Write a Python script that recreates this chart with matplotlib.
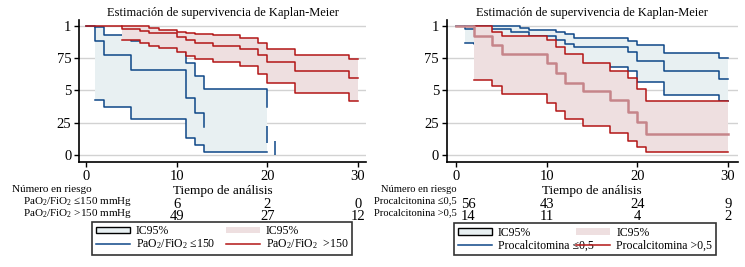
import matplotlib
matplotlib.use('Agg')
import matplotlib.pyplot as plt
from matplotlib.patches import Patch
from matplotlib.lines import Line2D
from matplotlib.transforms import blended_transform_factory

# ---- left panel: PaO2/FiO2 ----
l_blue_t = [0, 1, 2, 5, 11, 12, 13]
l_blue_s = [1.0, 0.886, 0.775, 0.659, 0.44, 0.328, 0.22]
l_blue_ci_t = [1, 2, 5, 11, 12, 13, 20]
l_blue_hi = [0.99, 0.934, 0.886, 0.716, 0.615, 0.51, 0.374]
l_blue_lo = [0.43, 0.37, 0.277, 0.13, 0.075, 0.023, 0.023]
l_blue_tick_x = [20, 20.9]
l_blue_tick_lo = [0.09, 0.0]
l_blue_tick_hi = [0.225, 0.108]

l_red_t = [0, 4, 6, 7, 10, 11, 12, 14, 17, 19, 20, 23, 29, 30]
l_red_s = [1.0, 0.98, 0.964, 0.943, 0.912, 0.889, 0.866, 0.845, 0.82, 0.775, 0.718, 0.651, 0.594, 0.594]
l_red_ci_t = [4, 6, 7, 8, 10, 11, 12, 14, 17, 19, 20, 23, 29, 30]
l_red_hi = [1.0, 1.0, 0.987, 0.966, 0.956, 0.948, 0.938, 0.93, 0.905, 0.866, 0.819, 0.773, 0.741, 0.741]
l_red_lo = [0.891, 0.866, 0.848, 0.832, 0.796, 0.77, 0.741, 0.718, 0.69, 0.628, 0.555, 0.483, 0.418, 0.418]

# ---- right panel: procalcitonina ----
r_blue_t = [0, 1, 6, 8, 11, 12, 13, 19, 20, 23, 29, 30]
r_blue_s = [1.0, 0.974, 0.95, 0.925, 0.89, 0.86, 0.835, 0.80, 0.726, 0.65, 0.587, 0.587]
r_blue_ci_t = [1, 2, 6, 7, 8, 11, 12, 13, 17, 19, 20, 23, 29, 30]
r_blue_hi = [1.0, 1.0, 1.0, 0.984, 0.969, 0.953, 0.938, 0.907, 0.907, 0.885, 0.852, 0.79, 0.75, 0.75]
r_blue_lo = [0.866, 0.86, 0.845, 0.845, 0.82, 0.78, 0.75, 0.70, 0.683, 0.65, 0.567, 0.463, 0.42, 0.42]

r_red_t = [0, 2, 4, 5, 10, 11, 12, 14, 17, 19, 20, 21, 30]
r_red_s = [1.0, 0.925, 0.85, 0.78, 0.71, 0.638, 0.56, 0.499, 0.426, 0.336, 0.256, 0.16, 0.16]
r_red_ci_t = [2, 4, 5, 10, 11, 12, 14, 17, 19, 20, 21, 30]
r_red_hi = [1.0, 0.951, 0.922, 0.891, 0.835, 0.78, 0.716, 0.654, 0.594, 0.509, 0.42, 0.42]
r_red_lo = [0.579, 0.535, 0.47, 0.40, 0.34, 0.28, 0.225, 0.168, 0.11, 0.06, 0.02, 0.02]

# number at risk
l_risk_t = [10, 20, 30]
l_risk_1 = ['6', '2', '0']
l_risk_2 = ['49', '27', '12']
r_risk_t = [0, 10, 20, 30]
r_risk_1 = ['56', '43', '24', '9']
r_risk_2 = ['14', '11', '4', '2']

yticks = [0, 0.25, 0.5, 0.75, 1]
ytick_labels = ['0', '25', '5', '75', '1']
xticks = [0, 10, 20, 30]

title = 'Estimación de supervivencia de Kaplan-Meier'
xlabel = 'Tiempo de análisis'

BLUE = '#0e4787'
RED = '#b31616'
PINK = '#c6858a'
BLUE_FILL = '#e8f0f2'
RED_FILL = '#eedfe0'
GRID = '#d2d2d2'

plt.rcParams['font.family'] = ['Liberation Serif', 'DejaVu Serif']
plt.rcParams['mathtext.fontset'] = 'custom'
plt.rcParams['mathtext.rm'] = 'Liberation Serif'
plt.rcParams['mathtext.it'] = 'Liberation Serif:italic'

W, H = 745, 267
fig = plt.figure(figsize=(W / 100, H / 100), dpi=100)


def px(x, y):
    return x / W, 1 - y / H


def setup_axes(ax, xlim):
    ax.set_xlim(*xlim)
    ax.set_ylim(-0.0543, 1.0465)
    ax.set_xticks(xticks)
    ax.set_yticks(yticks)
    ax.set_yticklabels(ytick_labels)
    ax.yaxis.grid(True, color=GRID, lw=1.0)
    ax.set_axisbelow(True)
    for s in ['top', 'right']:
        ax.spines[s].set_visible(False)
    for s in ['left', 'bottom']:
        ax.spines[s].set_linewidth(1.2)
    ax.tick_params(direction='out', length=3.5, width=1, labelsize=10.5, pad=2)
    ax.set_title(title, fontsize=9, pad=3)
    ax.set_xlabel(xlabel, fontsize=9.5, labelpad=2)


def draw_group(ax, t, s, ci_t, lo, hi, fill, color, est_color, lw_est=1.1, z=1):
    ax.fill_between(ci_t, lo, hi, step='post', color=fill, lw=0, zorder=z)
    ax.step(ci_t, hi, where='post', color=color, lw=1.1, zorder=z + 0.1)
    ax.step(ci_t, lo, where='post', color=color, lw=1.1, zorder=z + 0.1)
    ax.step(t, s, where='post', color=est_color, lw=lw_est, zorder=z + 0.2)


# left
ax1 = fig.add_axes([79 / W, 1 - 162 / H, 287.4 / W, 142 / H])
setup_axes(ax1, (-0.774, 30.93))
draw_group(ax1, l_blue_t, l_blue_s, l_blue_ci_t, l_blue_lo, l_blue_hi, BLUE_FILL, BLUE, BLUE, z=2)
ax1.vlines(l_blue_tick_x, l_blue_tick_lo, l_blue_tick_hi, color=BLUE, lw=1.1, zorder=2.2)
draw_group(ax1, l_red_t, l_red_s, l_red_ci_t, l_red_lo, l_red_hi, RED_FILL, RED, RED, z=3)

# right
ax2 = fig.add_axes([446.7 / W, 1 - 162 / H, 290.9 / W, 142 / H])
setup_axes(ax2, (-1.061, 31.09))
draw_group(ax2, r_blue_t, r_blue_s, r_blue_ci_t, r_blue_lo, r_blue_hi, BLUE_FILL, BLUE, BLUE, z=2)
draw_group(ax2, r_red_t, r_red_s, r_red_ci_t, r_red_lo, r_red_hi, RED_FILL, RED, PINK, lw_est=1.8, z=3)

# number at risk tables
fs_lab = 8
fig.text(*px(12, 189), 'Número en riesgo', fontsize=fs_lab, va='center', ha='left')
fig.text(*px(23, 201.5), r'PaO$_2$/FiO$_2$ ≤150 mmHg', fontsize=fs_lab, va='center', ha='left')
fig.text(*px(23, 213.5), r'PaO$_2$/FiO$_2$ >150 mmHg', fontsize=fs_lab, va='center', ha='left')
tr1 = blended_transform_factory(ax1.transData, fig.transFigure)
for t, a, b in zip(l_risk_t, l_risk_1, l_risk_2):
    ax1.text(t, px(0, 204.5)[1], a, transform=tr1, ha='center', va='center', fontsize=10.5)
    ax1.text(t, px(0, 216)[1], b, transform=tr1, ha='center', va='center', fontsize=10.5)

fig.text(*px(457, 189), 'Número en riesgo', fontsize=7.6, va='center', ha='right')
fig.text(*px(457, 201), 'Procalcitonina ≤0,5', fontsize=7.6, va='center', ha='right')
fig.text(*px(457, 213), 'Procalcitonina >0,5', fontsize=7.6, va='center', ha='right')
tr2 = blended_transform_factory(ax2.transData, fig.transFigure)
for i, (t, a, b) in enumerate(zip(r_risk_t, r_risk_1, r_risk_2)):
    dx = 1.3 if i == 0 else 0
    ax2.text(t + dx, px(0, 204.5)[1], a, transform=tr2, ha='center', va='center', fontsize=10.5)
    ax2.text(t + dx, px(0, 216)[1], b, transform=tr2, ha='center', va='center', fontsize=10.5)


# legends
def add_legend(x0, x1, lab1, lab2):
    handles = [Patch(facecolor=BLUE_FILL, edgecolor='black', lw=1.0),
               Line2D([], [], color=BLUE, lw=1.1),
               Patch(facecolor=RED_FILL, edgecolor='none'),
               Line2D([], [], color=RED, lw=1.1)]
    labels = ['IC95%', lab1, 'IC95%', lab2]
    bx, by = px(x0, 255)
    leg = fig.legend(handles, labels, ncol=2, loc='lower left',
                     bbox_to_anchor=(bx, by, (x1 - x0) / W, 30 / H),
                     bbox_transform=fig.transFigure, mode='expand', borderaxespad=0,
                     frameon=True, fancybox=False, edgecolor='black', fontsize=8.5,
                     handlelength=2.9, handleheight=0.5, handletextpad=0.5,
                     labelspacing=0.05, borderpad=0.3, columnspacing=1.0)
    leg.get_frame().set_linewidth(1.2)


add_legend(92, 352, r'PaO$_2$/FiO$_2$ ≤150', r'PaO$_2$/FiO$_2$  >150')
add_legend(454.3, 715.7, 'Procalcitomina ≤0,5', 'Procalcitomina >0,5')

fig.savefig('out.png', dpi=100)
